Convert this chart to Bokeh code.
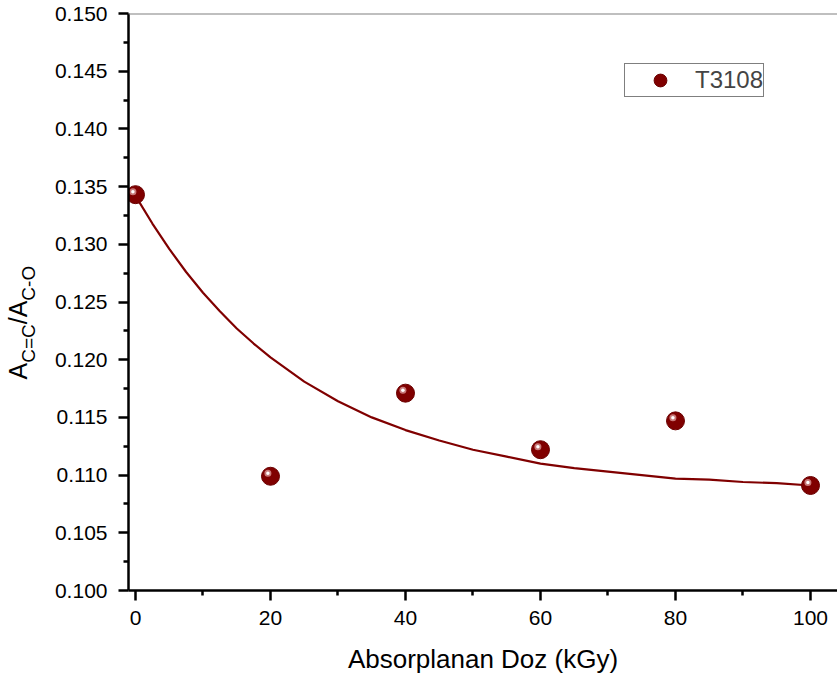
import math
from bokeh.plotting import figure
from bokeh.layouts import row
from bokeh.models import (Range1d, FixedTicker, NumeralTickFormatter, Span,
                          Legend, LegendItem)
from bokeh.core.properties import value
from bokeh.embed import file_html
from bokeh.resources import INLINE

# ---- data ----
dose = [0, 20, 40, 60, 80, 100]
ratio = [0.1343, 0.1099, 0.1171, 0.1122, 0.1147, 0.1091]

fit_dose = [0, 2.5, 5, 7.5, 10, 12.5, 15, 17.5, 20, 25, 30, 35, 40, 45, 50, 55, 60,
            65, 70, 75, 80, 85, 90, 95, 100]
fit_ratio = [0.1342, 0.1318, 0.1296, 0.1276, 0.1258, 0.1242, 0.1227, 0.1214, 0.1202,
             0.1181, 0.1164, 0.1150, 0.1139, 0.1130, 0.1122, 0.1116, 0.1110, 0.1106,
             0.1103, 0.1100, 0.1097, 0.1096, 0.1094, 0.1093, 0.1091]

x_ticks = [0, 20, 40, 60, 80, 100]
x_minor = [10, 30, 50, 70, 90]
y_ticks = [0.100, 0.105, 0.110, 0.115, 0.120, 0.125, 0.130, 0.135, 0.140, 0.145, 0.150]
y_minor = [0.1025, 0.1075, 0.1125, 0.1175, 0.1225, 0.1275, 0.1325, 0.1375, 0.1425, 0.1475]

series_name = "T3108"
x_label = "Absorplanan Doz (kGy)"
y_label_parts = ["A", "C=C", "/A", "C-O"]

# ---- layout ----
W, H = 837, 682
LBL_W = 50           # strip holding the rotated y label
LEFT, TOP, BOTTOM = 128, 13, 92
X0, X1 = -1.037, 104.0
Y0, Y1 = 0.100, 0.150

DARK = "#800000"
FONT = "Liberation Sans"

p = figure(width=W - LBL_W, height=H, output_backend="svg", toolbar_location=None,
           x_range=Range1d(X0, X1), y_range=Range1d(Y0, Y1), title=None,
           min_border_left=LEFT - LBL_W, min_border_right=0, min_border_top=TOP,
           min_border_bottom=BOTTOM)
p.grid.visible = False
p.outline_line_color = None
p.background_fill_color = "white"
p.border_fill_color = "white"

frame_w = W - LEFT
frame_h = H - TOP - BOTTOM
px_x = frame_w / (X1 - X0)
px_y = frame_h / (Y1 - Y0)

for ax in (p.xaxis[0], p.yaxis[0]):
    ax.axis_line_color = "black"
    ax.axis_line_width = 2.5
    ax.major_tick_line_color = "black"
    ax.major_tick_line_width = 2.5
    ax.minor_tick_line_color = "black"
    ax.minor_tick_line_width = 2.5
    ax.major_tick_in = 0
    ax.major_tick_out = 10
    ax.minor_tick_in = 0
    ax.minor_tick_out = 5
    ax.major_label_text_font = FONT
    ax.major_label_text_font_size = "21px"
    ax.major_label_text_color = "black"

p.xaxis.ticker = FixedTicker(ticks=x_ticks, minor_ticks=x_minor)
p.yaxis.ticker = FixedTicker(ticks=y_ticks, minor_ticks=y_minor)
p.yaxis.formatter = NumeralTickFormatter(format="0.000")
p.xaxis.major_label_standoff = 10
p.yaxis.major_label_standoff = 11

p.xaxis.axis_label = x_label
p.xaxis.axis_label_text_font = FONT
p.xaxis.axis_label_text_font_size = "26px"
p.xaxis.axis_label_text_font_style = "normal"
p.xaxis.axis_label_text_color = "black"
p.xaxis.axis_label_standoff = 16

# top border line
p.add_layout(Span(location=Y1, dimension="width", line_color="#808080", line_width=2))

# fit curve
p.line(fit_dose, fit_ratio, line_color=DARK, line_width=2.2)

# markers (sphere-like)
main = p.scatter(dose, ratio, size=18, fill_color=DARK, line_color="#6a0000", line_width=1)
hx = [d - 2.6 / px_x for d in dose]
hy = [r + 3.0 / px_y for r in ratio]
p.scatter(hx, hy, size=7, fill_color="#c87878", line_color=None)
p.scatter(hx, hy, size=3.5, fill_color="#ffffff", line_color=None)

# legend
legend = Legend(items=[LegendItem(label=series_name, renderers=[main])],
                location=(496, 493), border_line_color="black", border_line_width=1,
                label_text_font=FONT, label_text_font_size="24px",
                padding=0, margin=0, glyph_width=70, glyph_height=32,
                label_standoff=0, spacing=0, label_height=28,
                background_fill_color="white", background_fill_alpha=1)
p.add_layout(legend)

# ---- strip with the rotated y label  A_{C=C}/A_{C-O} ----
q = figure(width=LBL_W, height=H, output_backend="svg", toolbar_location=None,
           x_range=Range1d(0, LBL_W), y_range=Range1d(0, H), title=None,
           x_axis_type=None, y_axis_type=None,
           min_border_left=0, min_border_right=0, min_border_top=0, min_border_bottom=0)
q.frame_width = LBL_W
q.frame_height = H
q.grid.visible = False
q.outline_line_color = None
q.background_fill_color = "white"
q.border_fill_color = "white"

BIG, SUB = 25, 19
sizes = [BIG, SUB, BIG, SUB]
base_x = [17, 28, 17, 28]
ems = [0.667, 0.722 + 0.584 + 0.722, 0.278 + 0.667, 0.722 + 0.333 + 0.778]
ypos = 366.0
for txt, fs, bx, em in zip(y_label_parts, sizes, base_x, ems):
    q.text(x=[bx], y=[H - ypos], text=[txt], angle=math.pi / 2,
           text_font=value(FONT), text_font_size=value(f"{fs}px"), text_color="black",
           text_align="left", text_baseline="alphabetic")
    ypos -= em * fs

layout = row(q, p, spacing=0)
open("out.html", "w").write(file_html(layout, INLINE))
